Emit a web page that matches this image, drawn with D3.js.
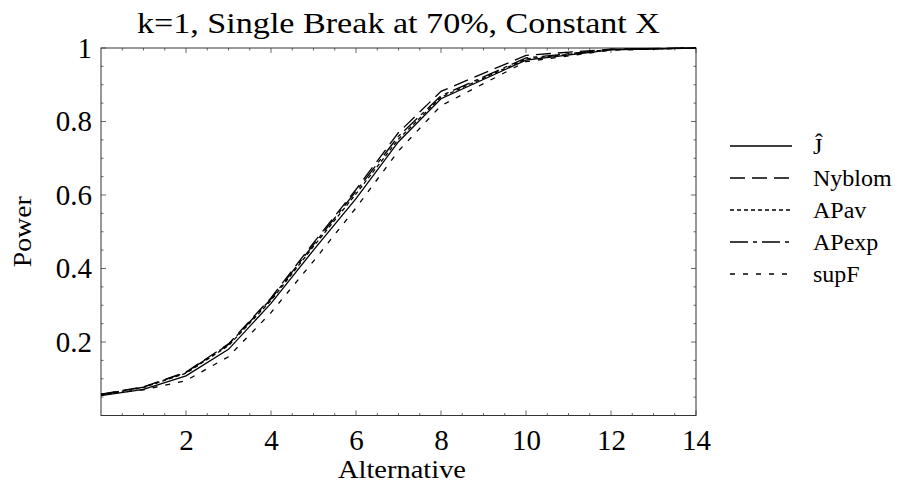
<!DOCTYPE html>
<html>
<head>
<meta charset="utf-8">
<script src="https://cdn.jsdelivr.net/npm/d3@7"></script>
<style>
  html, body { margin: 0; padding: 0; background: #fff; }
</style>
</head>
<body>
<svg id="chart" width="900" height="493"></svg>
<script>
// Power curves for five structural-break tests
const alternatives = [0, 1, 2, 3, 4, 5, 6, 7, 8, 10, 12, 14];
const seriesNames = ["Ĵ", "Nyblom", "APav", "APexp", "supF"];
const powerJ      = [0.054, 0.071, 0.108, 0.180, 0.305, 0.450, 0.590, 0.745, 0.862, 0.967, 0.995, 1.000];
const powerNyblom = [0.058, 0.078, 0.118, 0.195, 0.320, 0.470, 0.615, 0.770, 0.882, 0.980, 0.997, 1.000];
const powerAPav   = [0.056, 0.076, 0.115, 0.190, 0.313, 0.460, 0.603, 0.752, 0.866, 0.970, 0.996, 1.000];
const powerAPexp  = [0.057, 0.077, 0.117, 0.193, 0.317, 0.465, 0.610, 0.760, 0.870, 0.973, 0.996, 1.000];
const powerSupF   = [0.058, 0.070, 0.095, 0.160, 0.280, 0.420, 0.565, 0.720, 0.843, 0.963, 0.994, 1.000];
const xTicks = [2, 4, 6, 8, 10, 12, 14];
const yTicks = [0.2, 0.4, 0.6, 0.8, 1];
const yTickLabels = ["0.2", "0.4", "0.6", "0.8", "1"];

const seriesValues = [powerJ, powerNyblom, powerAPav, powerAPexp, powerSupF];
const dashes = ["none", "15,7", "4,3", "18,5,4,5", "5,8"];

const FONT = "Liberation Serif, serif";

const svg = d3.select("#chart");
const plot = { left: 101, right: 696, top: 48, bottom: 415.5 };

const x = d3.scaleLinear().domain([0, 14]).range([plot.left, plot.right]);
const y = d3.scaleLinear().domain([0, 1]).range([plot.bottom, plot.top]);

// Title
svg.append("text")
  .attr("x", 398.5).attr("y", 33)
  .attr("text-anchor", "middle")
  .attr("textLength", 523).attr("lengthAdjust", "spacingAndGlyphs")
  .style("font-family", FONT)
  .style("font-size", "30px")
  .text("k=1, Single Break at 70%, Constant X");

// Frame ticks: major and minor, drawn inward on all four sides
const xMinor = d3.range(0.5, 14, 0.5).filter(v => v % 2 !== 0);
const yMinor = d3.range(0.05, 1.0, 0.05).filter(v => Math.abs(v * 5 - Math.round(v * 5)) > 1e-6);

const g = svg.append("g");
const tickG = g.append("g").attr("stroke", "#444").attr("stroke-width", 0.8);

function addXTicks(vals, len) {
  vals.forEach(v => {
    tickG.append("line").attr("x1", x(v)).attr("x2", x(v))
      .attr("y1", plot.bottom).attr("y2", plot.bottom - len);
    tickG.append("line").attr("x1", x(v)).attr("x2", x(v))
      .attr("y1", plot.top).attr("y2", plot.top + len);
  });
}
function addYTicks(vals, len) {
  vals.forEach(v => {
    tickG.append("line").attr("y1", y(v)).attr("y2", y(v))
      .attr("x1", plot.left).attr("x2", plot.left + len);
    tickG.append("line").attr("y1", y(v)).attr("y2", y(v))
      .attr("x1", plot.right).attr("x2", plot.right - len);
  });
}
addXTicks(xTicks, 5);
addXTicks(xMinor, 2.5);
addYTicks(yTicks, 5);
addYTicks(yMinor, 2.5);

// Tick labels
const xAxis = d3.axisBottom(x).tickValues(xTicks).tickSize(0).tickPadding(14).tickFormat(d3.format("d"));
g.append("g").attr("transform", `translate(0,${plot.bottom})`).call(xAxis)
  .call(s => s.select(".domain").remove())
  .call(s => s.selectAll("text").style("font-size", "29px").style("font-family", FONT).attr("fill", "#000"));

const yAxis = d3.axisLeft(y).tickValues(yTicks).tickSize(0).tickPadding(9)
  .tickFormat((d, i) => yTickLabels[i]);
g.append("g").attr("transform", `translate(${plot.left},0)`).call(yAxis)
  .call(s => s.select(".domain").remove())
  .call(s => s.selectAll("text").style("font-size", "29px").style("font-family", FONT).attr("fill", "#000"));

// Frame
g.append("rect")
  .attr("x", plot.left).attr("y", plot.top)
  .attr("width", plot.right - plot.left).attr("height", plot.bottom - plot.top)
  .attr("fill", "none").attr("stroke", "#333").attr("stroke-width", 1);

// Axis titles
svg.append("text")
  .attr("x", 402).attr("y", 478)
  .attr("text-anchor", "middle")
  .attr("textLength", 128).attr("lengthAdjust", "spacingAndGlyphs")
  .style("font-family", FONT)
  .style("font-size", "26px")
  .text("Alternative");
svg.append("text")
  .attr("transform", `translate(31,${(plot.top + plot.bottom) / 2}) rotate(-90)`)
  .attr("text-anchor", "middle")
  .attr("textLength", 71).attr("lengthAdjust", "spacingAndGlyphs")
  .style("font-family", FONT)
  .style("font-size", "26px")
  .text("Power");

// Curves
const line = d3.line().x((d, i) => x(alternatives[i])).y(d => y(d));
const curves = g.append("g");
seriesValues.forEach((vals, k) => {
  curves.append("path")
    .datum(vals)
    .attr("d", line)
    .attr("fill", "none")
    .attr("stroke", "#000")
    .attr("stroke-width", 1.3)
    .attr("stroke-dasharray", dashes[k]);
});

// Legend
const legend = svg.append("g").attr("transform", "translate(730,146)");
seriesNames.forEach((name, k) => {
  const row = legend.append("g").attr("transform", `translate(0,${k * 32})`);
  row.append("line")
    .attr("x1", 0).attr("x2", 62).attr("y1", 0).attr("y2", 0)
    .attr("stroke", "#000").attr("stroke-width", 1.3)
    .attr("stroke-dasharray", dashes[k]);
  row.append("text")
    .attr("x", 83).attr("y", 0).attr("dy", "0.35em")
    .style("font-family", FONT)
    .style("font-size", "24px")
    .text(name);
});
</script>
</body>
</html>
